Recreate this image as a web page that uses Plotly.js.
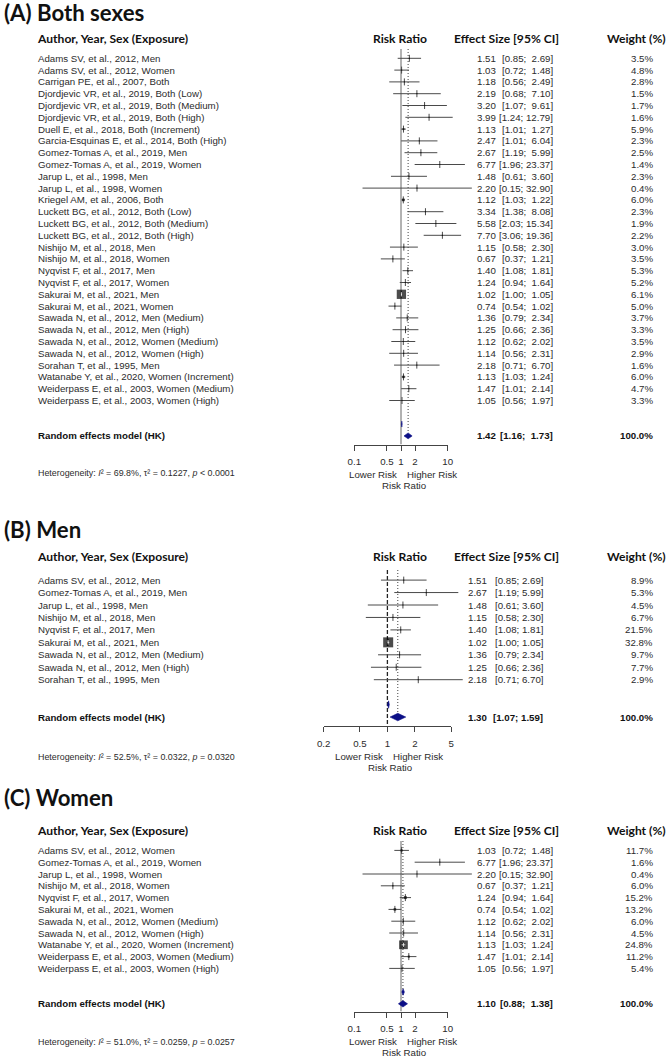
<!DOCTYPE html>
<html>
<head>
<meta charset="utf-8">
<script src="https://cdn.plot.ly/plotly-3.0.1.min.js"></script>
<style>
html,body{margin:0;padding:0;background:#fff;}
#chart{width:668px;height:1061px;}
</style>
</head>
<body>
<div id="chart"></div>
<script>
// ---------------- Panel A: both sexes ----------------
const studiesA = [
  "Adams SV, et al., 2012, Men",
  "Adams SV, et al., 2012, Women",
  "Carrigan PE, et al., 2007, Both",
  "Djordjevic VR, et al., 2019, Both (Low)",
  "Djordjevic VR, et al., 2019, Both (Medium)",
  "Djordjevic VR, et al., 2019, Both (High)",
  "Duell E, et al., 2018, Both (Increment)",
  "Garcia-Esquinas E, et al., 2014, Both (High)",
  "Gomez-Tomas A, et al., 2019, Men",
  "Gomez-Tomas A, et al., 2019, Women",
  "Jarup L, et al., 1998, Men",
  "Jarup L, et al., 1998, Women",
  "Kriegel AM, et al., 2006, Both",
  "Luckett BG, et al., 2012, Both (Low)",
  "Luckett BG, et al., 2012, Both (Medium)",
  "Luckett BG, et al., 2012, Both (High)",
  "Nishijo M, et al., 2018, Men",
  "Nishijo M, et al., 2018, Women",
  "Nyqvist F, et al., 2017, Men",
  "Nyqvist F, et al., 2017, Women",
  "Sakurai M, et al., 2021, Men",
  "Sakurai M, et al., 2021, Women",
  "Sawada N, et al., 2012, Men (Medium)",
  "Sawada N, et al., 2012, Men (High)",
  "Sawada N, et al., 2012, Women (Medium)",
  "Sawada N, et al., 2012, Women (High)",
  "Sorahan T, et al., 1995, Men",
  "Watanabe Y, et al., 2020, Women (Increment)",
  "Weiderpass E, et al., 2003, Women (Medium)",
  "Weiderpass E, et al., 2003, Women (High)"
];
const rrA    = [1.51,1.03,1.18,2.19,3.20,3.99,1.13,2.47,2.67,6.77,1.48,2.20,1.12,3.34,5.58,7.70,1.15,0.67,1.40,1.24,1.02,0.74,1.36,1.25,1.12,1.14,2.18,1.13,1.47,1.05];
const lowerA = [0.85,0.72,0.56,0.68,1.07,1.24,1.01,1.01,1.19,1.96,0.61,0.15,1.03,1.38,2.03,3.06,0.58,0.37,1.08,0.94,1.00,0.54,0.79,0.66,0.62,0.56,0.71,1.03,1.01,0.56];
const upperA = [2.69,1.48,2.49,7.10,9.61,12.79,1.27,6.04,5.99,23.37,3.60,32.90,1.22,8.08,15.34,19.36,2.30,1.21,1.81,1.64,1.05,1.02,2.34,2.36,2.02,2.31,6.70,1.24,2.14,1.97];
const weightA = [3.5,4.8,2.8,1.5,1.7,1.6,5.9,2.3,2.5,1.4,2.3,0.4,6.0,2.3,1.9,2.2,3.0,3.5,5.3,5.2,6.1,5.0,3.7,3.3,3.5,2.9,1.6,6.0,4.7,3.3];
const randomA = [1.42, 1.16, 1.73];     // estimate, lower, upper
const commonA = [1.04, 1.02, 1.06];
const hetA = ["69.8%", "0.1227", "<", "0.0001"];
const ticksA = [0.1, 0.5, 1, 2, 10];

// ---------------- Panel B: men ----------------
const studiesB = [
  "Adams SV, et al., 2012, Men",
  "Gomez-Tomas A, et al., 2019, Men",
  "Jarup L, et al., 1998, Men",
  "Nishijo M, et al., 2018, Men",
  "Nyqvist F, et al., 2017, Men",
  "Sakurai M, et al., 2021, Men",
  "Sawada N, et al., 2012, Men (Medium)",
  "Sawada N, et al., 2012, Men (High)",
  "Sorahan T, et al., 1995, Men"
];
const rrB    = [1.51,2.67,1.48,1.15,1.40,1.02,1.36,1.25,2.18];
const lowerB = [0.85,1.19,0.61,0.58,1.08,1.00,0.79,0.66,0.71];
const upperB = [2.69,5.99,3.60,2.30,1.81,1.05,2.34,2.36,6.70];
const weightB = [8.9,5.3,4.5,6.7,21.5,32.8,9.7,7.7,2.9];
const randomB = [1.30, 1.07, 1.59];
const commonB = [1.03, 1.00, 1.05];
const hetB = ["52.5%", "0.0322", "=", "0.0320"];
const ticksB = [0.2, 0.5, 1, 2, 5];

// ---------------- Panel C: women ----------------
const studiesC = [
  "Adams SV, et al., 2012, Women",
  "Gomez-Tomas A, et al., 2019, Women",
  "Jarup L, et al., 1998, Women",
  "Nishijo M, et al., 2018, Women",
  "Nyqvist F, et al., 2017, Women",
  "Sakurai M, et al., 2021, Women",
  "Sawada N, et al., 2012, Women (Medium)",
  "Sawada N, et al., 2012, Women (High)",
  "Watanabe Y, et al., 2020, Women (Increment)",
  "Weiderpass E, et al., 2003, Women (Medium)",
  "Weiderpass E, et al., 2003, Women (High)"
];
const rrC    = [1.03,6.77,2.20,0.67,1.24,0.74,1.12,1.14,1.13,1.47,1.05];
const lowerC = [0.72,1.96,0.15,0.37,0.94,0.54,0.62,0.56,1.03,1.01,0.56];
const upperC = [1.48,23.37,32.90,1.21,1.64,1.02,2.02,2.31,1.24,2.14,1.97];
const weightC = [11.7,1.6,0.4,6.0,15.2,13.2,6.0,4.5,24.8,11.2,5.4];
const randomC = [1.10, 0.88, 1.38];
const commonC = [1.11, 1.04, 1.18];
const hetC = ["51.0%", "0.0259", "=", "0.0257"];
const ticksC = [0.1, 0.5, 1, 2, 10];

// ---------------- page geometry (pixels) ----------------
const W = 668, H = 1061;
const px2x = p => p / W;
const px2y = p => 1 - p / H;

const ROW_FONT = "Liberation Sans, Arial, sans-serif";
const HEAD_FONT = "Lato, Carlito, sans-serif";
const ROW_COLOR = "#2b2b2b";
const HEAD_COLOR = "#111";
const ROW_SIZE = 9.7;

const panels = [
  { title: "(A) Both sexes", titleY: 13, headY: 38.5,
    row0: 58.3, step: 11.8, top: 49, axisY: 444.5,
    x1: 401, ppd: 46.7, ticks: ticksA, estRight: 495.6, ciRight: 553, padCI: true,
    labels: studiesA, rr: rrA, lo: lowerA, hi: upperA, w: weightA,
    random: randomA, common: commonA, het: hetA, hetY: 473.3,
    refDash: "solid", refColor: "#666", refWidth: 1, sqMax: 9.3, dh: 0.25,
    lowY: 474.8, xlabY: 485.5 },
  { title: "(B) Men", titleY: 530, headY: 556.7,
    row0: 580.1, step: 12.45, top: 570, axisY: 726,
    x1: 387.4, ppd: 91.2, ticks: ticksB, estRight: 487.2, ciRight: 543.3, padCI: false,
    labels: studiesB, rr: rrB, lo: lowerB, hi: upperB, w: weightB,
    random: randomB, common: commonB, het: hetB, hetY: 757,
    refDash: "4px,2px", refColor: "#222", refWidth: 1.3, sqMax: 10, dh: 0.3,
    lowY: 756.7, xlabY: 767 },
  { title: "(C) Women", titleY: 797, headY: 830.3,
    row0: 850.4, step: 11.8, top: 841, axisY: 1011.5,
    x1: 401, ppd: 46.7, ticks: ticksC, estRight: 495.6, ciRight: 553, padCI: true,
    labels: studiesC, rr: rrC, lo: lowerC, hi: upperC, w: weightC,
    random: randomC, common: commonC, het: hetC, hetY: 1042,
    refDash: "solid", refColor: "#666", refWidth: 1, sqMax: 8.7, dh: 0.27,
    lowY: 1041.8, xlabY: 1052 }
];

const traces = [];
const annotations = [];
const layout = {
  width: W, height: H,
  margin: { l: 0, r: 0, t: 0, b: 0, pad: 0 },
  paper_bgcolor: "#fff", plot_bgcolor: "rgba(0,0,0,0)",
  showlegend: false, hovermode: false,
  annotations: annotations
};

function txt(text, x, xref, y, yref, anchor, font, extra) {
  annotations.push(Object.assign({
    text: text, x: x, xref: xref, y: y, yref: yref,
    xanchor: anchor, yanchor: "middle", showarrow: false,
    borderpad: 0, borderwidth: 0, font: font
  }, extra || {}));
}

const fmt = v => v.toFixed(2);

panels.forEach((p, i) => {
  const xData = i === 0 ? "x" : "x" + (2 * i + 1);
  const xTick = "x" + (2 * i + 2);
  const yId = i === 0 ? "y" : "y" + (i + 1);
  const xKey = a => a === "x" ? "xaxis" : "xaxis" + a.slice(1);
  const yKey = yId === "y" ? "yaxis" : "yaxis" + yId.slice(1);

  const rowTop = (p.top - p.row0) / p.step;
  const rowAxis = (p.axisY - p.row0) / p.step;
  const n = p.labels.length;
  const rowCommon = n + 1;
  const rowRandom = n + 2;

  // vertical scale: one unit per study row, row 0 at the top
  layout[yKey] = {
    domain: [px2y(p.axisY), px2y(p.top)],
    range: [rowAxis, rowTop],
    visible: false, fixedrange: true
  };
  // hidden log axis carrying the marks (wider than the drawn axis)
  const dataL = 320, dataR = 500;
  layout[xKey(xData)] = {
    type: "log", anchor: yId,
    domain: [px2x(dataL), px2x(dataR)],
    range: [(dataL - p.x1) / p.ppd, (dataR - p.x1) / p.ppd],
    visible: false, fixedrange: true
  };
  // drawn risk-ratio axis
  const tMin = p.ticks[0], tMax = p.ticks[p.ticks.length - 1];
  layout[xKey(xTick)] = {
    type: "log", anchor: yId,
    domain: [px2x(p.x1 + p.ppd * Math.log10(tMin)), px2x(p.x1 + p.ppd * Math.log10(tMax))],
    range: [Math.log10(tMin), Math.log10(tMax)],
    tickmode: "array", tickvals: p.ticks, ticktext: p.ticks.map(String),
    ticks: "outside", ticklen: 5, tickwidth: 1, tickcolor: "#444",
    showline: true, linecolor: "#444", linewidth: 1,
    showgrid: false, zeroline: false, ticklabelstandoff: 3,
    tickfont: { family: ROW_FONT, size: ROW_SIZE, color: ROW_COLOR },
    fixedrange: true
  };
  traces.push({ x: [], y: [], xaxis: xTick, yaxis: yId, type: "scatter", mode: "markers", hoverinfo: "skip" });

  const base = { xaxis: xData, yaxis: yId, type: "scatter", hoverinfo: "skip", cliponaxis: false };

  // no-effect line and pooled-estimate line
  traces.push(Object.assign({}, base, {
    x: [1, 1], y: [rowTop, rowAxis], mode: "lines",
    line: { color: p.refColor, width: p.refWidth, dash: p.refDash }
  }));
  traces.push(Object.assign({}, base, {
    x: [p.random[0], p.random[0]], y: [rowTop, rowRandom - 0.25], mode: "lines",
    line: { color: "#444", width: 1, dash: "1px,2px" }
  }));

  // confidence intervals
  const cx = [], cy = [];
  p.labels.forEach((_, r) => { cx.push(p.lo[r], p.hi[r], null); cy.push(r, r, null); });
  traces.push(Object.assign({}, base, {
    x: cx, y: cy, mode: "lines", line: { color: "#4a4a4a", width: 1 }
  }));
  // point-estimate ticks
  const rows = p.labels.map((_, r) => r);
  traces.push(Object.assign({}, base, {
    x: p.rr, y: rows, mode: "markers",
    marker: { symbol: "line-ns", size: 5, line: { color: "#4a4a4a", width: 1 } }
  }));

  // squares sized by inverse-variance precision
  const se = p.labels.map((_, r) => (Math.log(p.hi[r]) - Math.log(p.lo[r])) / 3.92);
  const seMin = Math.min.apply(null, se);
  const side = se.map(s => Math.max(1.2, p.sqMax * seMin / s));
  traces.push(Object.assign({}, base, {
    x: p.rr, y: rows, mode: "markers",
    marker: { symbol: "square", size: side, color: "#000", line: { width: 0 } }
  }));

  // intervals that fit inside their square are redrawn in white
  const wx = [], wy = [], mx = [], my = [];
  p.labels.forEach((_, r) => {
    const ciPx = p.ppd * (Math.log10(p.hi[r]) - Math.log10(p.lo[r]));
    if (ciPx < side[r] - 1) { wx.push(p.lo[r], p.hi[r], null); wy.push(r, r, null); mx.push(p.rr[r]); my.push(r); }
  });
  if (wx.length) {
    traces.push(Object.assign({}, base, { x: wx, y: wy, mode: "lines", line: { color: "#fff", width: 0.8 } }));
    traces.push(Object.assign({}, base, {
      x: mx, y: my, mode: "markers",
      marker: { symbol: "line-ns", size: 3, line: { color: "#fff", width: 0.8 } }
    }));
  }

  // summary diamonds
  const diamond = (v, row, h) => Object.assign({}, base, {
    x: [v[1], v[0], v[2], v[0], v[1]],
    y: [row, row - h, row, row + h, row],
    mode: "lines", fill: "toself", fillcolor: "#0b0f86",
    line: { color: "#0b0f86", width: 0.6 }
  });
  traces.push(diamond(p.common, rowCommon, p.dh));
  traces.push(diamond(p.random, rowRandom, p.dh));

  // ---- text ----
  const rowFont = { family: ROW_FONT, size: ROW_SIZE, color: ROW_COLOR };
  const boldFont = { family: ROW_FONT, size: ROW_SIZE, color: "#111", weight: "bold" };
  const headFont = { family: HEAD_FONT, size: 12.1, color: HEAD_COLOR, weight: "bold" };

  txt(p.title, px2x(4), "paper", px2y(p.titleY), "paper", "left",
      { family: HEAD_FONT, size: 22.2, color: HEAD_COLOR, weight: "bold" });
  txt("Author, Year, Sex (Exposure)", px2x(36.7), "paper", px2y(p.headY), "paper", "left", headFont);
  txt("Risk Ratio", px2x(400), "paper", px2y(p.headY), "paper", "center", headFont);
  txt("Effect Size [95% CI]", px2x(506), "paper", px2y(p.headY), "paper", "center", headFont);
  txt("Weight (%)", px2x(636), "paper", px2y(p.headY), "paper", "center", headFont);

  const ciText = (lo, hi) => {
    let u = fmt(hi);
    if (p.padCI && u.length < 5) u = "\u00a0" + u;
    return "[" + fmt(lo) + "; " + u + "]";
  };

  p.labels.forEach((lab, r) => {
    txt(lab, px2x(37.5), "paper", r, yId, "left", rowFont);
    txt(fmt(p.rr[r]), px2x(p.estRight), "paper", r, yId, "right", rowFont);
    txt(ciText(p.lo[r], p.hi[r]), px2x(p.ciRight), "paper", r, yId, "right", rowFont);
    txt(p.w[r].toFixed(1) + "%", px2x(652.7), "paper", r, yId, "right", rowFont);
  });

  txt("Random effects model (HK)", px2x(37.5), "paper", rowRandom, yId, "left", boldFont);
  txt(fmt(p.random[0]), px2x(p.estRight), "paper", rowRandom, yId, "right", boldFont);
  txt(ciText(p.random[1], p.random[2]), px2x(p.ciRight), "paper", rowRandom, yId, "right", boldFont);
  txt("100.0%", px2x(652.7), "paper", rowRandom, yId, "right", boldFont);

  txt("Heterogeneity: <i>I</i>\u00b2 = " + p.het[0] + ", \u03c4\u00b2 = " + p.het[1] +
      ", <i>p</i> " + p.het[2] + " " + p.het[3],
      px2x(37.7), "paper", px2y(p.hetY), "paper", "left",
      { family: ROW_FONT, size: 8.9, color: ROW_COLOR });

  txt("Lower Risk", 0, xData, px2y(p.lowY), "paper", "right", rowFont, { xshift: -4 });
  txt("Higher Risk", 0, xData, px2y(p.lowY), "paper", "left", rowFont, { xshift: 6 });
  txt("Risk Ratio", 0, xData, px2y(p.xlabY), "paper", "center", rowFont, { xshift: 3 });
});

Plotly.newPlot("chart", traces, layout, { staticPlot: true, displayModeBar: false });
</script>
</body>
</html>
